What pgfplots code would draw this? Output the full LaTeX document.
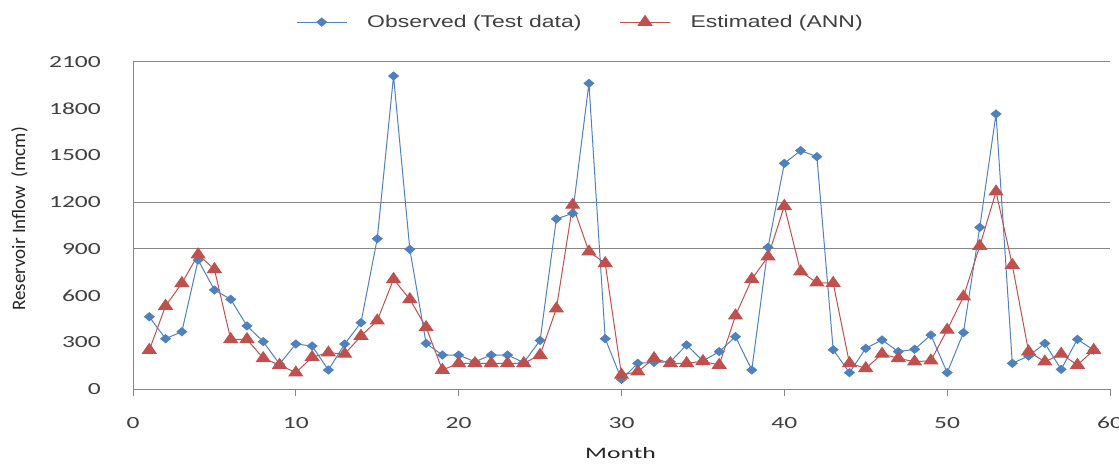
\documentclass[border=0pt]{standalone}
\usepackage{fontspec}
\setmainfont{Carlito}
\newfontfamily\tickfont[FakeStretch=1.5]{Carlito}
\newfontfamily\monthfont[FakeStretch=1.6]{Carlito}
\newfontfamily\legfont[FakeStretch=1.35]{Liberation Sans}
\usepackage{pgfplots}
\usepackage{pgfplotstable}
\pgfplotsset{compat=1.18}
\definecolor{obsblue}{HTML}{4F81BD}
\definecolor{estred}{HTML}{C0504D}
\definecolor{axgray}{HTML}{868686}
\definecolor{txtgray}{HTML}{404040}
\pgfplotstableread{
m obs est
1 464 250
2 323 533
3 368 679
4 828 863
5 636 769
6 576 319
7 405 319
8 304 197
9 160 154
10 289 105
11 276 204
12 122 233
13 289 225
14 426 340
15 965 439
16 2010 705
17 897 576
18 293 396
19 218 122
20 218 165
21 175 165
22 218 165
23 218 165
24 170 165
25 312 218
26 1092 516
27 1128 1182
28 1963 882
29 323 807
30 62 90
31 165 111
32 171 197
33 175 165
34 283 165
35 180 178
36 240 154
37 336 471
38 122 705
39 910 850
40 1449 1175
41 1531 754
42 1492 683
43 252 680
44 105 165
45 261 133
46 315 225
47 240 197
48 255 175
49 347 182
50 105 379
51 362 593
52 1038 918
53 1766 1267
54 165 796
55 212 240
56 293 175
57 126 225
58 319 154
59 250 250
}\datatable
\begin{document}
\begin{tikzpicture}
\useasboundingbox (0,0) rectangle (1119bp,473bp);
\begin{axis}[
  at={(133bp,84bp)}, anchor=south west,
  scale only axis, width=977bp, height=327bp,
  xmin=0, xmax=60, ymin=0, ymax=2100,
  axis x line*=bottom, axis y line*=left,
  axis line style={draw=axgray, line width=1bp},
  xtick={0,10,...,60}, ytick={0,300,...,2100},
  /pgf/number format/.cd, 1000 sep={}, assume math mode=true, /pgfplots/.cd,
  tick align=outside,
  major tick length=7bp,
  x tick style={draw=axgray, line width=1bp},
  y tick style={draw=none},
  extra y ticks={0,900,1200,2100},
  extra y tick labels={},
  extra y tick style={grid=major, major grid style={draw=axgray, line width=1bp},
     tick style={draw=axgray, line width=1bp}},
  tick label style={font=\tickfont\fontsize{17bp}{20bp}\selectfont, text=txtgray},
  xticklabel style={anchor=north, inner sep=0pt, yshift=-21bp},
  yticklabel style={anchor=east, inner sep=0pt, xshift=-25bp},
  xlabel={\monthfont Month},
  ylabel={Reservoir Inflow\ \ (mcm)},
  every axis x label/.style={at={(axis description cs:0.499,-0.197)}, anchor=center,
     font=\fontsize{16bp}{19bp}\selectfont, text=black!85},
  every axis y label/.style={at={(axis description cs:-0.1163,0.52)}, rotate=90, anchor=center,
     font=\fontsize{19bp}{22bp}\selectfont, text=black!85},
  legend columns=2,
  legend style={at={(axis description cs:0.458,1.122)}, anchor=center, draw=none, fill=none,
     font=\legfont\fontsize{17bp}{20bp}\selectfont, text=txtgray,
     /tikz/every even column/.append style={column sep=36bp},
     /tikz/every odd column/.append style={column sep=18bp}},
  legend image code/.code={\draw[mark repeat=2,mark phase=2,#1] plot coordinates {(0bp,0bp) (25bp,0bp) (50bp,0bp)};},
  clip=false,
]
\addplot[color=obsblue, line width=1bp, mark=diamond*,
  mark options={solid, fill=obsblue, draw=obsblue, xscale=1.6, mark size=4bp}]
  table[x=m, y=obs] {\datatable};
\addlegendentry{Observed (Test data)}
\addplot[color=estred, line width=1bp, mark=triangle*,
  mark options={solid, fill=estred, draw=estred, xscale=1.2, mark size=6.5bp}]
  table[x=m, y=est] {\datatable};
\addlegendentry{Estimated (ANN)}
\end{axis}
\end{tikzpicture}
\end{document}
